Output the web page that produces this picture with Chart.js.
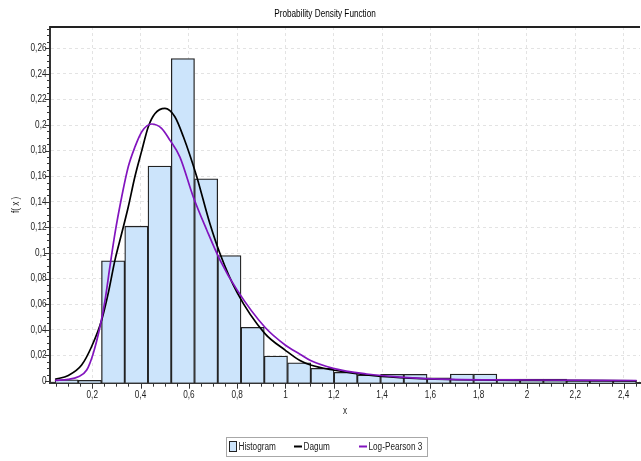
<!DOCTYPE html>
<html><head><meta charset="utf-8">
<script src="https://cdn.jsdelivr.net/npm/chart.js@4.4.1/dist/chart.umd.min.js"></script>
<style>html,body{margin:0;padding:0;background:#fff;}canvas{display:block;}</style>
</head><body>
<canvas id="c" width="641" height="461"></canvas>
<script>
// ---- data ----
const binCenters = [0.0937,0.1900,0.2863,0.3826,0.4789,0.5752,0.6715,0.7678,0.8641,0.9604,1.0567,1.1530,1.2493,1.3456,1.4419,1.5382,1.6345,1.7308,1.8271,1.9234,2.0197,2.1160,2.2123,2.3086,2.4049];
const histValues = [0.001,0.0005,0.094,0.121,0.168,0.252,0.158,0.098,0.042,0.0195,0.0143,0.0099,0.0068,0.0047,0.0052,0.0052,0.0026,0.0055,0.0055,0.0015,0.0015,0.0015,0,0,0];

const dagumX = [0.046,0.101,0.156,0.197,0.239,0.266,0.294,0.322,0.349,0.377,0.405,0.432,0.460,0.501,0.542,0.577,0.632,0.687,0.729,0.800,0.915,1.000,1.060,1.104,1.198,1.336,1.474,1.681,2.025,2.454];
const dagumY = [0.0013,0.0044,0.0125,0.0268,0.0477,0.0685,0.0945,0.1154,0.136,0.160,0.180,0.1987,0.209,0.213,0.2065,0.191,0.160,0.123,0.0995,0.069,0.037,0.024,0.016,0.0125,0.0086,0.0047,0.0026,0.0012,0.0005,0.0002];

const lp3X = [0.046,0.100,0.142,0.177,0.204,0.232,0.253,0.273,0.294,0.322,0.349,0.377,0.405,0.446,0.487,0.522,0.563,0.618,0.674,0.729,0.800,0.915,1.000,1.060,1.104,1.198,1.336,1.474,1.681,2.025,2.454];
const lp3Y = [0.0005,0.0013,0.0034,0.0086,0.0216,0.0424,0.0633,0.0893,0.1154,0.144,0.1674,0.183,0.1948,0.2008,0.1974,0.188,0.175,0.144,0.118,0.0945,0.071,0.042,0.028,0.021,0.016,0.0099,0.0055,0.0031,0.0013,0.0008,0.0004];

const xTickValues = [0.2,0.4,0.6,0.8,1,1.2,1.4,1.6,1.8,2,2.2,2.4];
const yTickValues = [0,0.02,0.04,0.06,0.08,0.1,0.12,0.14,0.16,0.18,0.2,0.22,0.24,0.26];

const X_MIN = 0.025, X_MAX = 2.468, Y_MIN = -0.0013, Y_MAX = 0.2766;
const FONT = "'Liberation Sans','Arial',sans-serif";
const TXT = '#222';
const GRID = '#e3e3e3';
const HIST_FILL = '#cce4fb', HIST_BORDER = '#222', DAGUM_COLOR = '#000', LP3_COLOR = '#8214be';

function fmt(v){ return String(Math.round(v*1000)/1000).replace('.', ','); }

// narrow (condensed) rendering of the sans font, like Arial Narrow
const canvas = document.getElementById('c');
const c2d = canvas.getContext('2d');
const NARROW = 0.82;
const nativeFill = c2d.fillText.bind(c2d);
const nativeMeasure = c2d.measureText.bind(c2d);
c2d.fillText = function(text, x, y, maxWidth) {
  this.save();
  this.translate(x, y);
  this.scale(NARROW, 1);
  if (maxWidth !== undefined && maxWidth !== null) nativeFill(text, 0, 0, maxWidth / NARROW);
  else nativeFill(text, 0, 0);
  this.restore();
};
c2d.measureText = function(text) {
  const m = nativeMeasure(text);
  return {
    width: m.width * NARROW,
    actualBoundingBoxLeft: m.actualBoundingBoxLeft * NARROW,
    actualBoundingBoxRight: m.actualBoundingBoxRight * NARROW,
    actualBoundingBoxAscent: m.actualBoundingBoxAscent,
    actualBoundingBoxDescent: m.actualBoundingBoxDescent,
    fontBoundingBoxAscent: m.fontBoundingBoxAscent,
    fontBoundingBoxDescent: m.fontBoundingBoxDescent
  };
};

const decor = {
  id: 'decor',
  afterDraw(chart){
    const {ctx, chartArea:a, scales:{x, y}} = chart;
    ctx.save();
    // top frame line
    ctx.strokeStyle = '#222'; ctx.lineWidth = 2;
    ctx.beginPath(); ctx.moveTo(a.left, a.top); ctx.lineTo(a.right, a.top); ctx.stroke();
    // tick marks (major + minor)
    ctx.lineWidth = 1; ctx.strokeStyle = '#333';
    const xs = 0.05, ys = 0.005;
    for (let k = Math.ceil(X_MIN/xs); k*xs <= X_MAX + 1e-9; k++) {
      const px = Math.round(x.getPixelForValue(k*xs)) + 0.5;
      const len = (k % 4 === 0) ? 5 : 3;
      ctx.beginPath(); ctx.moveTo(px, a.bottom + 1); ctx.lineTo(px, a.bottom + 1 + len); ctx.stroke();
    }
    for (let k = 0; k*ys <= Y_MAX + 1e-9; k++) {
      const py = Math.round(y.getPixelForValue(k*ys)) + 0.5;
      const len = (k % 4 === 0) ? 4 : 2;
      ctx.beginPath(); ctx.moveTo(a.left - 1, py); ctx.lineTo(a.left - 1 - len, py); ctx.stroke();
    }
    // legend
    const L = 226, T = 437, W = 201, H = 19, step = 65, cy = T + H/2;
    ctx.strokeStyle = '#a8a8a8'; ctx.lineWidth = 1;
    ctx.strokeRect(L + 0.5, T + 0.5, W, H);
    ctx.font = '10px ' + FONT; ctx.textBaseline = 'middle'; ctx.textAlign = 'left';
    chart.data.datasets.forEach((ds, i) => {
      const x0 = L + 3 + i*step;
      if (ds.type === 'bar') {
        ctx.fillStyle = ds.backgroundColor; ctx.fillRect(x0 + 0.5, cy - 5, 7, 10);
        ctx.strokeStyle = ds.borderColor; ctx.lineWidth = 1; ctx.strokeRect(x0 + 0.5, cy - 5, 7, 10);
      } else {
        ctx.strokeStyle = ds.borderColor; ctx.lineWidth = 2;
        ctx.beginPath(); ctx.moveTo(x0, cy); ctx.lineTo(x0 + 8, cy); ctx.stroke();
      }
      ctx.fillStyle = TXT;
      ctx.fillText(ds.label, x0 + 9.5, cy + 0.5);
    });
    ctx.restore();
  }
};

new Chart(canvas, {
  type: 'bar',
  data: {
    datasets: [
      { type: 'bar', label: 'Histogram', order: 3,
        data: binCenters.map((c, i) => ({x: c, y: histValues[i]})),
        backgroundColor: HIST_FILL, borderColor: HIST_BORDER, borderWidth: 1.3,
        barPercentage: 1, categoryPercentage: 1, base: Y_MIN },
      { type: 'line', label: 'Dagum', order: 2,
        data: dagumX.map((v, i) => ({x: v, y: dagumY[i]})),
        borderColor: DAGUM_COLOR, borderWidth: 1.7, pointRadius: 0, fill: false,
        cubicInterpolationMode: 'monotone' },
      { type: 'line', label: 'Log-Pearson 3', order: 1,
        data: lp3X.map((v, i) => ({x: v, y: lp3Y[i]})),
        borderColor: LP3_COLOR, borderWidth: 1.7, pointRadius: 0, fill: false,
        cubicInterpolationMode: 'monotone' }
    ]
  },
  options: {
    responsive: false, animation: false,
    layout: { padding: { left: 10, right: 1, top: 0, bottom: 41.3 } },
    plugins: {
      legend: { display: false },
      tooltip: { enabled: false },
      title: { display: true, text: 'Probability Density Function', color: '#000',
               font: { family: FONT, size: 10, weight: 'normal' }, padding: { top: 8, bottom: 7 } }
    },
    scales: {
      x: {
        type: 'linear', min: X_MIN, max: X_MAX, offset: false,
        afterBuildTicks: s => { s.ticks = xTickValues.map(v => ({value: v})); },
        afterFit: s => { s.height = 37; s.paddingLeft = 0; s.paddingRight = 0; },
        ticks: { callback: v => fmt(v), font: { family: FONT, size: 10 }, color: TXT, padding: 7, maxRotation: 0, autoSkip: false },
        grid: { color: GRID, drawTicks: false, offset: false },
        border: { color: '#333', width: 2, dash: [3, 3] },
        title: { display: true, text: 'x', color: TXT, font: { family: FONT, size: 10 }, padding: { top: 0, bottom: 2 } }
      },
      y: {
        type: 'linear', min: Y_MIN, max: Y_MAX,
        afterBuildTicks: s => { s.ticks = yTickValues.map(v => ({value: v})); },
        afterFit: s => { s.width = 40; s.paddingTop = 0; s.paddingBottom = 0; },
        ticks: { callback: v => fmt(v), font: { family: FONT, size: 10 }, color: TXT, padding: 3.5, autoSkip: false },
        grid: { color: GRID, drawTicks: false },
        border: { color: '#333', width: 2, dash: [3, 3] },
        title: { display: true, text: 'f( x )', color: TXT, font: { family: FONT, size: 10 }, padding: { top: 0, bottom: 0 } }
      }
    }
  },
  plugins: [decor]
});
</script>
</body></html>
